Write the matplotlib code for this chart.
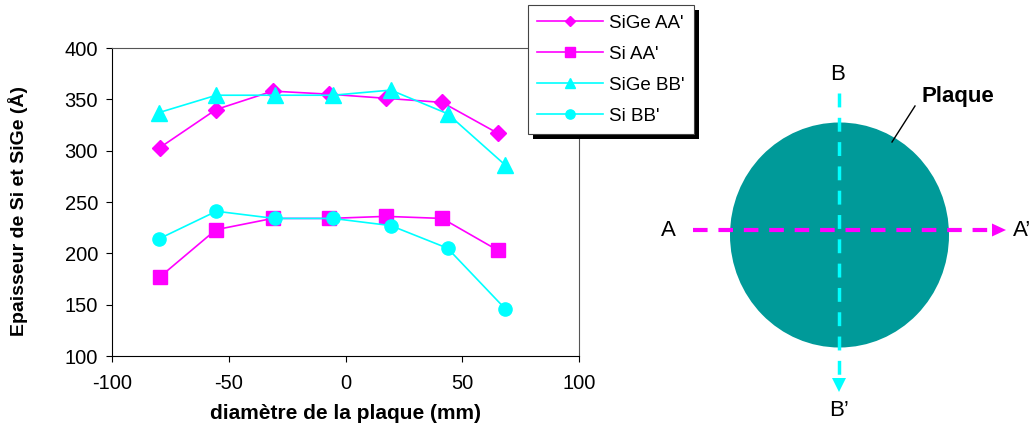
import matplotlib
matplotlib.use('Agg')
import matplotlib.pyplot as plt
from matplotlib.patches import Ellipse, Rectangle, Polygon
from matplotlib.transforms import IdentityTransform

plt.rcParams['font.family'] = ['Liberation Sans', 'DejaVu Sans']
plt.rcParams['axes.unicode_minus'] = False

# ==========================================
# Données
# ==========================================
pos_aa = [-79.5, -55.5, -31.2, -7.0, 17.3, 41.4, 65.2]
pos_bb = [-80.0, -55.3, -30.4, -5.4, 19.4, 43.7, 68.4]
sige_aa = [303, 340, 358, 355, 351, 347, 317]
si_aa = [177, 223, 234, 234, 236, 234, 203]
sige_bb = [337, 354, 354, 354, 359, 336, 286]
si_bb = [214, 241, 234, 234, 227, 205, 146]

x_ticks = [-100, -50, 0, 50, 100]
y_ticks = [100, 150, 200, 250, 300, 350, 400]

magenta = '#FF00FF'
cyan = '#00FFFF'
teal = '#009A99'

fig = plt.figure(figsize=(10.32, 4.36), dpi=100)

# --- schéma de la plaque (coordonnées en pixels) ---
ax2 = fig.add_axes([0, 0, 1, 1], zorder=-1)
ax2.set_xlim(0, 1032)
ax2.set_ylim(436, 0)
ax2.axis('off')
ax2.patch.set_alpha(0)

ax2.add_patch(Ellipse((839.5, 235), 219, 225, facecolor=teal, edgecolor='none'))
ax2.plot([693, 992], [230, 230], color=magenta, lw=3.0, dashes=(3.5, 2.6))
ax2.add_patch(Polygon([[992, 223.5], [1006, 230], [992, 236.5]], closed=True,
                      facecolor=magenta, edgecolor='none'))
ax2.plot([839, 839], [93, 378], color=cyan, lw=2.5, dashes=(4, 3))
ax2.add_patch(Polygon([[832, 378], [846, 378], [839, 392]], closed=True,
                      facecolor=cyan, edgecolor='none'))
ax2.plot([915, 892], [106, 142], color='black', lw=1)

ax2.text(668, 230, 'A', fontsize=16, ha='center', va='center')
ax2.text(1013, 230, 'A’', fontsize=16, ha='left', va='center')
ax2.text(838, 75, 'B', fontsize=16, ha='center', va='center')
ax2.text(839, 410, 'B’', fontsize=16, ha='center', va='center')
ax2.text(958, 96, 'Plaque', fontsize=16, fontweight='bold', ha='center', va='center')

# --- graphique ---
ax = fig.add_axes([112 / 1032, 1 - 356 / 436, 467 / 1032, 308 / 436])
ax.patch.set_alpha(0)
ax.plot(pos_aa, sige_aa, color=magenta, lw=1.2, marker='D', ms=8, label="SiGe AA'")
ax.plot(pos_aa, si_aa, color=magenta, lw=1.2, marker='s', ms=9.5, label="Si AA'")
ax.plot(pos_bb, sige_bb, color=cyan, lw=1.2, marker='^', ms=11, label="SiGe BB'")
ax.plot(pos_bb, si_bb, color=cyan, lw=1.2, marker='o', ms=9.5, label="Si BB'")

ax.set_xlim(-100, 100)
ax.set_ylim(100, 400)
ax.set_xticks(x_ticks)
ax.set_yticks(y_ticks)
ax.tick_params(direction='out', length=4, width=0.8, labelsize=14.5)
ax.tick_params(axis='x', pad=9)
ax.tick_params(axis='y', pad=6)
for s in ax.spines.values():
    s.set_linewidth(0.8)
ax.spines['top'].set_color('#555555')
ax.spines['right'].set_color('#555555')
ax.set_xlabel('diamètre de la plaque (mm)', fontsize=15, fontweight='bold', labelpad=8)
ax.set_ylabel('Epaisseur de Si et SiGe (Å)', fontsize=14, fontweight='bold')
ax.yaxis.set_label_coords(-0.18, 0.47)

leg = fig.legend(loc='upper left', bbox_to_anchor=(528 / 1032, 1 - 5 / 436),
                 fontsize=13.5, frameon=True, fancybox=False, edgecolor='#444444',
                 framealpha=1, borderpad=0.5, labelspacing=0.75, handlelength=3.5,
                 handletextpad=0.3, markerscale=0.7, borderaxespad=0)
leg.get_frame().set_linewidth(0.8)

fig.canvas.draw()
bb = leg.get_window_extent()
fig.patches.append(Rectangle((bb.x0 + 5, bb.y0 - 5), bb.width, bb.height,
                             transform=IdentityTransform(), facecolor='black',
                             edgecolor='none', zorder=4))

fig.savefig('out.png', dpi=100)
